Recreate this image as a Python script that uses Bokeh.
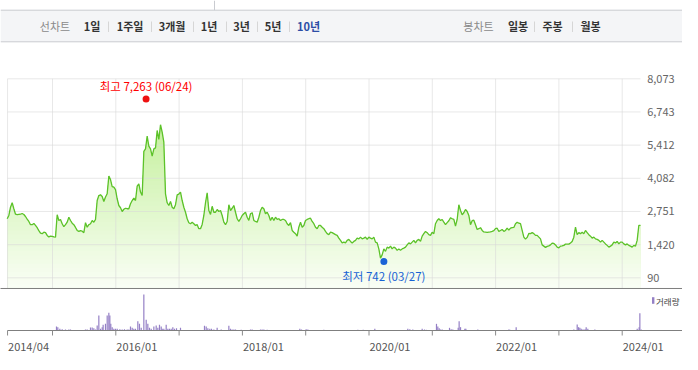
import numpy as np
import pandas as pd
from bokeh.plotting import figure
from bokeh.models import Range1d
from bokeh.core.properties import value
from bokeh.embed import file_html
from bokeh.resources import INLINE

FONT = "Noto Sans CJK KR"

# ---------------- data ----------------
first_date = 2014.284   # decimal year of first close
last_date = 2024.289    # decimal year of last close

close_a = [2460, 2590, 2920, 3100, 2860, 2640, 2620, 2630, 2640, 2670,
           2630, 2550, 2440, 2350, 2220, 2220, 2270, 2190, 2100, 1980,
           1880, 1860, 1920, 1900, 1790, 1730, 1760, 1750, 1730, 1720,
           2620, 2390, 2430, 2260, 2140, 2220, 2320, 2520, 2390, 2280,
           2220, 2110, 1990, 1950, 1980, 1960, 1900, 2300, 2120, 2220,
           2260, 2390, 2320, 2430, 3190, 3390, 3420, 3350, 3150, 3330,
           3460, 4170]
close_b = [4030, 3750, 3730, 3630, 3260, 2990, 2900, 2750, 2840, 2880,
           2860, 2860, 3060, 3190, 3290, 3190, 3770, 3860, 3530, 3390,
           5160, 5260, 5770, 5370, 5260, 4970, 5260, 5300, 6000, 5640,
           6230, 5930, 5530, 3460, 3100, 2990, 3150, 2920, 2860, 3020,
           3420, 3450, 3530, 3190, 2920, 2720, 2460, 2300, 2260, 2320,
           2260, 2190, 2220, 2060, 2060, 2230, 2590, 3100, 3500, 2790,
           2630, 2960, 2720]
close_c = [2720, 2830, 2750, 2790, 2590, 2320, 2220, 2350, 3020, 2790,
           2880, 2990, 2720, 2460, 2350, 2460, 2590, 2660, 2720, 2520,
           2390, 2660, 2700, 2390, 2350, 2320, 2520, 2790, 2920, 2860,
           2660, 2720, 2590, 2390, 2520, 2390, 2520, 2430, 2460, 2390,
           2430, 2430, 2390, 2260, 2190, 2300, 1990, 1920, 1860, 1760,
           2120, 2320, 2120, 2190, 2390, 2430, 2460, 2480, 2350, 2260,
           2120, 2060, 2190]
close_d = [2190, 2120, 2060, 1950, 1860, 1820, 1920, 1900, 1860, 1820,
           1790, 1680, 1590, 1490, 1520, 1490, 1590, 1630, 1550, 1490,
           1550, 1590, 1680, 1650, 1720, 1650, 1680, 1720, 1630, 1720,
           1680, 1650, 1720, 1520, 1490, 1250, 880, 1010, 1250, 1150,
           1320, 1280, 1360, 1250, 1320, 1280, 1190, 1250, 1190, 1250,
           1280, 1320, 1410, 1490, 1450, 1520, 1590, 1490, 1590, 1630,
           1550, 1760, 1860]
close_e = [1950, 1900, 1820, 1790, 1920, 1860, 2260, 2390, 2460, 2390,
           2430, 2320, 2220, 2300, 2380, 2500, 2460, 2430, 2160, 2430,
           3020, 2790, 2620, 2700, 2830, 2750, 2590, 2220, 2380, 2400,
           2220, 2030, 2060, 2100, 1990, 1930, 1920, 1910, 1920, 1930,
           1950, 1980, 2060, 2080, 1950, 1990, 2030, 1950, 1990, 2080,
           2000, 2080, 2100, 2110, 2260, 2320, 2280, 2260, 1990, 1720,
           1640, 1710, 1870]
close_f = [1860, 1900, 1860, 1790, 1790, 1720, 1650, 1410, 1360, 1310,
           1350, 1370, 1410, 1480, 1470, 1410, 1320, 1290, 1360, 1370,
           1390, 1440, 1440, 1440, 1490, 1550, 1720, 2120, 1820, 1900,
           1860, 1920, 1860, 1990, 1900, 1820, 1760, 1680, 1720, 1650,
           1630, 1590, 1520, 1590, 1520, 1450, 1390, 1320, 1360, 1410,
           1520, 1490, 1550, 1450, 1520, 1520, 1450, 1410, 1450, 1390,
           1360, 1320, 1390, 1360, 1590, 2190, 2190]

vol_dates = [2015.063, 2015.084, 2015.116, 2015.153, 2015.205, 2015.258, 2015.284, 2015.521, 2015.548, 2015.600,
             2015.627, 2015.653, 2015.679, 2015.706, 2015.732, 2015.758, 2015.785, 2015.800, 2015.837, 2015.864,
             2015.890, 2015.906, 2015.921, 2015.943, 2015.969, 2015.995, 2016.022, 2016.064, 2016.101, 2016.137,
             2016.180, 2016.206, 2016.232, 2016.259, 2016.285, 2016.311, 2016.348, 2016.374, 2016.401, 2016.443,
             2016.480, 2016.506, 2016.532, 2016.559, 2016.601, 2016.638, 2016.664, 2016.690, 2016.717, 2016.733,
             2016.759, 2016.796, 2016.822, 2016.848, 2016.875, 2016.901, 2016.927, 2016.959, 2017.022, 2017.401,
             2017.428, 2017.454, 2017.485, 2017.512, 2017.549, 2017.601, 2017.665, 2017.786, 2017.812, 2017.838,
             2017.865, 2017.891, 2017.981, 2018.128, 2018.154, 2018.286, 2018.312, 2018.339, 2018.391, 2018.907,
             2018.934, 2019.007, 2019.034, 2019.286, 2019.824, 2019.908, 2020.092, 2020.613, 2020.645, 2020.692,
             2020.840, 2020.877, 2020.908, 2021.066, 2021.087, 2021.109, 2021.130, 2021.156, 2021.272, 2021.298,
             2021.324, 2021.409, 2021.424, 2021.446, 2021.514, 2021.530, 2021.719, 2022.209, 2022.225, 2022.325,
             2023.236, 2023.289, 2023.310, 2023.331, 2023.352, 2023.378, 2023.399, 2023.420, 2023.431, 2023.457,
             2023.568, 2024.237, 2024.268, 2024.279, 2024.300]
vol_values = [120, 100, 50, 40, 30, 30, 30, 30, 30, 90,
              90, 70, 30, 150, 450, 50, 100, 170, 200, 450,
              530, 450, 200, 100, 50, 50, 50, 40, 30, 40,
              30, 30, 120, 80, 50, 50, 280, 200, 80, 1080,
              320, 200, 80, 50, 120, 150, 80, 170, 120, 50,
              50, 170, 50, 50, 50, 100, 50, 70, 80, 140,
              120, 70, 50, 50, 30, 80, 30, 140, 50, 30,
              30, 30, 20, 30, 30, 30, 30, 30, 20, 50,
              30, 40, 30, 20, 20, 20, 50, 50, 40, 30,
              50, 30, 20, 200, 120, 70, 30, 30, 80, 40,
              30, 80, 280, 100, 50, 50, 30, 30, 20, 100,
              30, 180, 100, 80, 50, 30, 30, 30, 100, 50,
              30, 50, 100, 520, 30]

y_ticks = [90, 1420, 2751, 4082, 5412, 6743, 8073]
x_ticks = [2014.29, 2015.0, 2016.0, 2017.0, 2018.0, 2019.0, 2020.0, 2021.0, 2022.0, 2023.0, 2024.0]
x_tick_labels = ["2014/04", "", "2016/01", "", "2018/01", "", "2020/01", "", "2022/01", "", "2024/01"]

high_date, high_value = "2016-06-24", 7263
low_date, low_value = "2020-03-27", 742

line_tabs = ["1일", "1주일", "3개월", "1년", "3년", "5년", "10년"]
candle_tabs = ["일봉", "주봉", "월봉"]
active_tab = "10년"
volume_label = "거래량"

# ---------------- helpers ----------------
def to_year(s):
    ts = pd.Timestamp(s)
    days = 366 if ts.is_leap_year else 365
    return ts.year + (ts.dayofyear - 1) / days

close = np.array(close_a + close_b + close_c + close_d + close_e + close_f, dtype=float)
dates = np.linspace(first_date, last_date, len(close))

# ---------------- layout constants ----------------
W, H = 682, 354
PX_PER_YEAR = 63.3
X_START = 2014.1785
X_END = X_START + W / PX_PER_YEAR
PRICE_TOP, PRICE_BOTTOM = 11214, -2987     # price scale over the whole canvas height
PRICE_FLOOR = -339                         # bottom edge of the price panel
VOL_TOP, VOL_BOTTOM = 9900, -720           # volume scale over the whole canvas height
TICK_LEN = 150                             # 5px in volume units

p = figure(width=W, height=H, x_range=Range1d(X_START, X_END),
           y_range=Range1d(PRICE_BOTTOM, PRICE_TOP),
           output_backend="svg", toolbar_location=None,
           x_axis_location=None, y_axis_location=None, min_border=0,
           outline_line_color=None, background_fill_color="white", border_fill_color="white")
p.grid.visible = False
p.extra_x_ranges = {"px": Range1d(0, W)}
p.extra_y_ranges = {"vol": Range1d(VOL_BOTTOM, VOL_TOP), "py": Range1d(H, 0)}

# ---------------- header bar ----------------
HK = dict(x_range_name="px", y_range_name="py")
p.quad(left=0, right=W, top=9.7, bottom=41.3, fill_color="#f4f5f7", line_color=None, **HK)
p.segment(x0=[0, 0], x1=[W, W], y0=[9.7, 41.3], y1=[9.7, 41.3], line_color="#c9cbd0", line_width=1, **HK)
p.segment(x0=[214], x1=[214], y0=[0], y1=[9.7], line_color="#c9cbd0", line_width=1, **HK)

tab_x = [91.5, 129.5, 171.5, 208.5, 241, 272.5, 308]
sep_x = [108, 151, 193, 226, 257, 289, 534, 572]
candle_x = [517.5, 552, 590]
TY = 25.5
p.text(x=[54.5, 478], y=[TY, TY], text=["선차트", "봉차트"], text_align="center",
       text_baseline="middle", text_font=value(FONT), text_font_size="11px", text_color="#8a8a8a", **HK)
tab_colors = ["#2d4ea6" if t == active_tab else "#333333" for t in line_tabs]
p.text(x=tab_x, y=[TY] * len(line_tabs), text=line_tabs, text_align="center", text_baseline="middle",
       text_font=value(FONT), text_font_size="11px", text_font_style="bold", text_color=tab_colors, **HK)
p.text(x=candle_x, y=[TY] * len(candle_tabs), text=candle_tabs, text_align="center", text_baseline="middle",
       text_font=value(FONT), text_font_size="11px", text_font_style="bold", text_color="#333333", **HK)
p.segment(x0=sep_x, x1=sep_x, y0=[21] * len(sep_x), y1=[31.5] * len(sep_x),
          line_color="#d6d6d6", line_width=1, **HK)

# ---------------- price panel ----------------
hi = 6300.0
N = 40
step = (hi - PRICE_FLOOR) / N
top_c = np.array([196, 240, 156])
bot_c = np.array([250, 254, 246])
for k in range(N):
    h = hi - k * step
    frac = (h - step / 2 - PRICE_FLOOR) / (hi - PRICE_FLOOR)
    c = bot_c + frac * (top_c - bot_c)
    col = "#%02x%02x%02x" % tuple(int(round(v)) for v in c)
    p.varea(x=dates, y1=PRICE_FLOOR, y2=np.minimum(close, h), fill_color=col)

# grid lines
p.segment(x0=x_ticks, x1=x_ticks, y0=[PRICE_FLOOR] * len(x_ticks), y1=[y_ticks[-1]] * len(x_ticks),
          line_color="#d8d8d8", line_alpha=0.6, line_width=1)
p.segment(x0=[x_ticks[0]] * len(y_ticks), x1=[last_date] * len(y_ticks), y0=y_ticks, y1=y_ticks,
          line_color="#d8d8d8", line_alpha=0.6, line_width=1)

p.line(dates, close, line_color="#5cc229", line_width=1.3)

hx, lx = to_year(high_date), to_year(low_date)
p.scatter([hx], [high_value], size=7, fill_color="#ee1111", line_color=None)
p.scatter([lx], [low_value], size=7, fill_color="#1b63d6", line_color=None)
p.text(x=[hx], y=[high_value], text=[f"최고 {high_value:,} ({high_date[5:7]}/{high_date[8:10]})"],
       text_align="center", text_baseline="middle", y_offset=-13,
       text_font=value(FONT), text_font_size="11.5px", text_color="#ff0000")
p.text(x=[lx], y=[low_value], text=[f"최저 {low_value:,} ({low_date[5:7]}/{low_date[8:10]})"],
       text_align="center", text_baseline="middle", y_offset=14,
       text_font=value(FONT), text_font_size="11.5px", text_color="#1763d4")

# right-hand price labels
p.text(x=[last_date] * len(y_ticks), y=y_ticks, text=[f"{v:,}" for v in y_ticks],
       text_align="left", text_baseline="middle", x_offset=6.7,
       text_font=value(FONT), text_font_size="11px", text_color="#666666")

# separator between panels
p.segment(x0=[X_START - 1], x1=[X_END + 1], y0=[PRICE_FLOOR], y1=[PRICE_FLOOR],
          line_color="#7f7f7f", line_width=1)

# ---------------- volume panel ----------------
VK = dict(y_range_name="vol")
p.vbar(x=vol_dates, top=vol_values, bottom=0, width=0.019, fill_color="#9580c6", line_color=None, **VK)
p.segment(x0=[x_ticks[0]], x1=[X_END + 1], y0=[0], y1=[0], line_color="#7f7f7f", line_width=1, **VK)
p.segment(x0=x_ticks, x1=x_ticks, y0=[0] * len(x_ticks), y1=[-TICK_LEN] * len(x_ticks),
          line_color="#8a8a8a", line_width=1, **VK)
lab_x = [t for t, s in zip(x_ticks, x_tick_labels) if s]
lab_s = [s for s in x_tick_labels if s]
p.text(x=lab_x, y=[-TICK_LEN] * len(lab_x), text=lab_s, text_align="left", text_baseline="top",
       x_offset=0.5, y_offset=2, text_font=value(FONT), text_font_size="11px", text_color="#555555", **VK)

# volume legend
p.quad(left=651.5, right=653.9, top=296.7, bottom=303.3, fill_color="#9580c6", line_color=None, **HK)
p.text(x=[655.5], y=[300], text=[volume_label], text_align="left", text_baseline="middle",
       text_font=value(FONT), text_font_size="8.5px", text_color="#444444", **HK)

open("out.html", "w").write(file_html(p, INLINE))
